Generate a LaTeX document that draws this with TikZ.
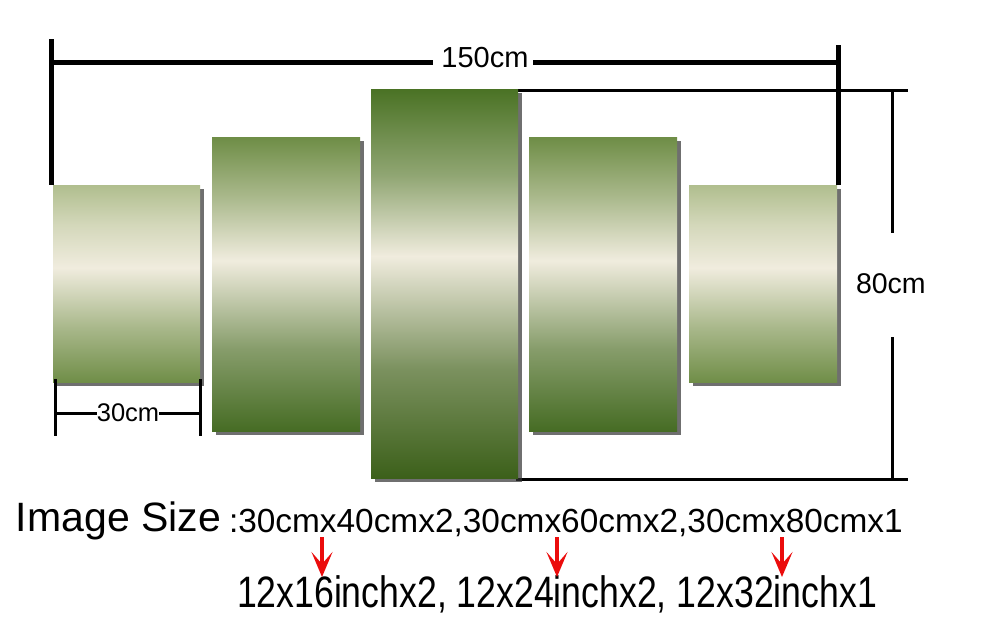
\documentclass[tikz,border=0pt]{standalone}
\usepackage{fontspec}
\setmainfont{Liberation Sans}
\usetikzlibrary{arrows.meta,shadows}
\definecolor{cream}{RGB}{240,236,222}
\definecolor{gAtop}{RGB}{176,190,142}
\definecolor{gAbot}{RGB}{112,142,72}
\definecolor{gBtop}{RGB}{110,141,70}
\definecolor{gBbot}{RGB}{70,108,36}
\definecolor{gCtop}{RGB}{74,114,36}
\definecolor{gCbot}{RGB}{60,96,26}
\definecolor{arrowred}{RGB}{235,12,12}
\pgfdeclareverticalshading{shA}{100bp}{color(0bp)=(gAbot); color(25bp)=(gAbot); color(39bp)=(gAbot!55!cream); color(54bp)=(cream); color(65bp)=(gAtop!45!cream); color(75bp)=(gAtop); color(100bp)=(gAtop)}
\pgfdeclareverticalshading{shB}{100bp}{color(0bp)=(gBbot); color(25bp)=(gBbot); color(39bp)=(gBbot!62!cream); color(54bp)=(cream); color(65bp)=(gBtop!55!cream); color(75bp)=(gBtop); color(100bp)=(gBtop)}
\pgfdeclareverticalshading{shC}{100bp}{color(0bp)=(gCbot); color(25bp)=(gCbot); color(39bp)=(gCbot!65!cream); color(53.5bp)=(cream); color(64bp)=(gCtop!58!cream); color(75bp)=(gCtop); color(100bp)=(gCtop)}
\tikzset{
  panel/.style={rectangle, draw=none, inner sep=0pt, outer sep=0pt, anchor=north west,
    drop shadow={shadow xshift=3.5pt, shadow yshift=-3.5pt, fill=black!80, opacity=0.7}},
  dimthick/.style={line width=5pt},
  dimthin/.style={line width=3pt},
  lbl/.style={inner sep=0pt, outer sep=0pt, text=black},
  redarrow/.style={draw=arrowred, line width=3.5pt, -{Stealth[length=25pt,width=21pt,inset=12pt]}}
}
\begin{document}
\begin{tikzpicture}[x=1pt,y=-1pt]
\useasboundingbox[fill=white] (0,0) rectangle (983,630);

% right-hand 80cm dimension
\coordinate (rt1) at (516,90);  \coordinate (rt2) at (908,90);
\coordinate (rb1) at (516,479); \coordinate (rb2) at (908,479);
\coordinate (v1) at (892,90);   \coordinate (v2) at (892,233);
\coordinate (v3) at (892,337);  \coordinate (v4) at (892,479);
\draw[dimthin] (rt1) -- (rt2);
\draw[dimthin] (rb1) -- (rb2);
\draw[dimthin] (v1) -- (v2);
\draw[dimthin] (v3) -- (v4);
\node[lbl, font=\fontsize{28.5}{30}\selectfont, anchor=base west] (t80) at (856,293) {80cm};

% panels
\node[panel, shading=shA, minimum width=147pt, minimum height=197pt] (p1) at (53,185) {};
\node[panel, shading=shB, minimum width=148pt, minimum height=294pt] (p2) at (212,137) {};
\node[panel, shading=shC, minimum width=147pt, minimum height=389pt] (p3) at (371,89) {};
\node[panel, shading=shB, minimum width=148pt, minimum height=294pt] (p4) at (529,137) {};
\node[panel, shading=shA, minimum width=148pt, minimum height=197pt] (p5) at (689,185) {};

% top 150cm dimension
\coordinate (tl) at (51,39);  \coordinate (tlb) at (51,185);
\coordinate (tr) at (838,45); \coordinate (trb) at (838,185);
\coordinate (hl) at (49,62);  \coordinate (hr) at (840,62);
\coordinate (g1) at (433,62); \coordinate (g2) at (533,62);
\draw[dimthick] (tl) -- (tlb);
\draw[dimthick] (tr) -- (trb);
\draw[dimthick] (hl) -- (g1);
\draw[dimthick] (g2) -- (hr);
\node[lbl, font=\fontsize{29}{30}\selectfont, anchor=base] (t150) at (485,67) {150cm};

% 30cm dimension
\coordinate (a1) at (55,379);  \coordinate (a2) at (55,436);
\coordinate (b1) at (200,379); \coordinate (b2) at (200,436);
\coordinate (c1) at (55,413);  \coordinate (c2) at (200,413);
\draw[dimthin] (a1) -- (a2);
\draw[dimthin] (b1) -- (b2);
\node[lbl, font=\fontsize{25.5}{28}\selectfont, anchor=base] (t30) at (128,421.5) {30cm};
\draw[dimthin] (c1) -- (t30.west |- c1);
\draw[dimthin] (t30.east |- c2) -- (c2);

% texts
\node[lbl, font=\fontsize{41}{44}\selectfont, anchor=base west] (isz) at (16,531) {Image Size};
\node[lbl, font=\fontsize{33.4}{36}\selectfont, anchor=base west] (cmline) at (229,532) {:30cmx40cmx2,30cmx60cmx2,30cmx80cmx1};
\node[lbl, font=\fontsize{44}{48}\selectfont, anchor=base west] (inchline) at (237,607) {\scalebox{0.81}[1]{12x16inchx2, 12x24inchx2, 12x32inchx1}};

% red arrows
\coordinate (r1s) at (322,537); \coordinate (r1e) at (322,577);
\coordinate (r2s) at (557,537); \coordinate (r2e) at (557,577);
\coordinate (r3s) at (782,537); \coordinate (r3e) at (782,577);
\draw[redarrow] (r1s) -- (r1e);
\draw[redarrow] (r2s) -- (r2e);
\draw[redarrow] (r3s) -- (r3e);
\end{tikzpicture}
\end{document}
